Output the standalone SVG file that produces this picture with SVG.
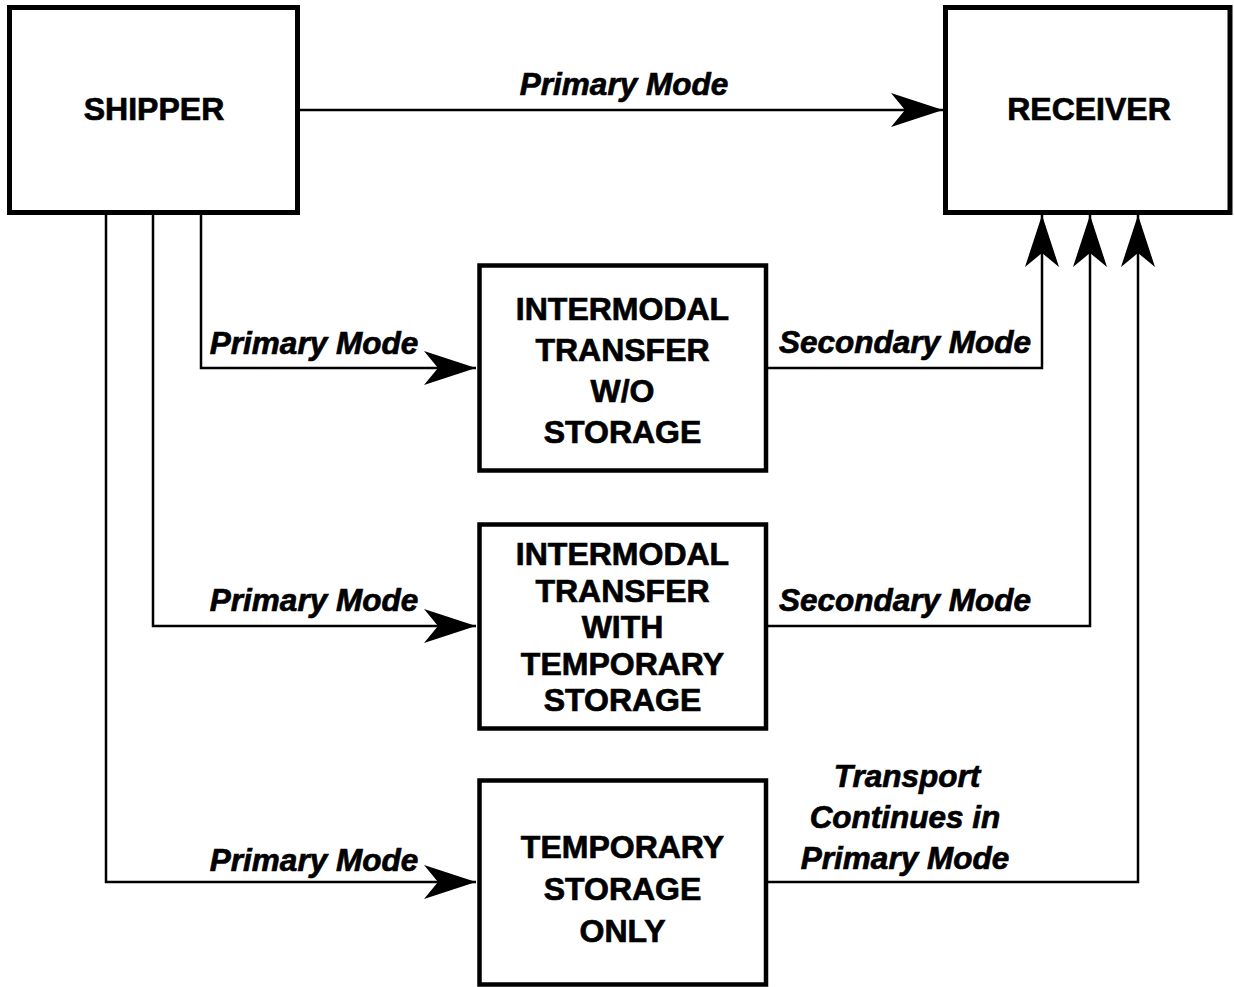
<svg xmlns="http://www.w3.org/2000/svg" width="1234" height="987" viewBox="0 0 1234 987">
<style>
.box{fill:#fff;stroke:#000;stroke-width:5}
.ibox{fill:#fff;stroke:#000;stroke-width:4.5}
.nt{font-family:"Liberation Sans",Arial,sans-serif;font-weight:bold;font-size:32px;text-anchor:middle;fill:#000;stroke:#000;stroke-width:0.7}
.lb{font-family:"Liberation Sans",Arial,sans-serif;font-weight:bold;font-style:italic;font-size:31.5px;text-anchor:middle;fill:#000;stroke:#000;stroke-width:0.7}
.cn{fill:none;stroke:#000;stroke-width:2.5;marker-end:url(#ah)}
</style>
<defs>
<marker id="ah" markerUnits="userSpaceOnUse" viewBox="0 0 54 34" markerWidth="54" markerHeight="34" refX="52" refY="17" orient="auto">
<path d="M0,0 L52,17 L0,34 L14,17 Z" fill="#000"/>
</marker>
</defs>
<rect width="1234" height="987" fill="#fff"/>
<g id="connectors">
<path class="cn" d="M299,110 L943,110"/>
<path class="cn" d="M201,214 L201,368 L476,368"/>
<path class="cn" d="M153,214 L153,626 L476,626"/>
<path class="cn" d="M106,214 L106,882 L476,882"/>
<path class="cn" d="M768,368 L1042,368 L1042,215"/>
<path class="cn" d="M768,626 L1090,626 L1090,215"/>
<path class="cn" d="M768,882 L1138,882 L1138,215"/>
</g>
<g id="labels">
<text class="lb" x="624" y="95">Primary Mode</text>
<text class="lb" x="314" y="354">Primary Mode</text>
<text class="lb" x="314" y="611">Primary Mode</text>
<text class="lb" x="314" y="871">Primary Mode</text>
<text class="lb" x="905" y="353">Secondary Mode</text>
<text class="lb" x="905" y="611">Secondary Mode</text>
<text class="lb" x="907" y="787">Transport</text>
<text class="lb" x="905" y="828">Continues in</text>
<text class="lb" x="905" y="869">Primary Mode</text>
</g>
<g id="shipper">
<rect class="box" x="9.5" y="7.5" width="288" height="205"/>
<text class="nt" x="154" y="120">SHIPPER</text>
</g>
<g id="receiver">
<rect class="box" x="945.5" y="7.5" width="284.5" height="205"/>
<text class="nt" x="1089" y="120">RECEIVER</text>
</g>
<g id="transfer-wo-storage">
<rect class="ibox" x="479.5" y="265.5" width="286.5" height="205"/>
<text class="nt" x="622.5" y="320">INTERMODAL</text>
<text class="nt" x="622.5" y="361">TRANSFER</text>
<text class="nt" x="622.5" y="402">W/O</text>
<text class="nt" x="622.5" y="443">STORAGE</text>
</g>
<g id="transfer-with-storage">
<rect class="ibox" x="479.5" y="524.5" width="286.5" height="204"/>
<text class="nt" x="622.5" y="565">INTERMODAL</text>
<text class="nt" x="622.5" y="602">TRANSFER</text>
<text class="nt" x="622.5" y="638">WITH</text>
<text class="nt" x="622.5" y="675">TEMPORARY</text>
<text class="nt" x="622.5" y="711">STORAGE</text>
</g>
<g id="temporary-storage">
<rect class="ibox" x="479.5" y="780.5" width="286.5" height="204"/>
<text class="nt" x="622.5" y="858">TEMPORARY</text>
<text class="nt" x="622.5" y="900">STORAGE</text>
<text class="nt" x="622.5" y="942">ONLY</text>
</g>
</svg>
